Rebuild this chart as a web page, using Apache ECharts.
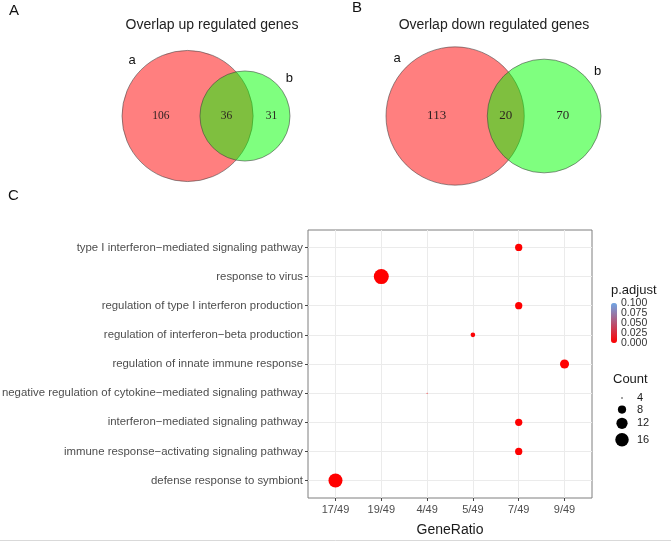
<!DOCTYPE html>
<html>
<head>
<meta charset="utf-8">
<script src="https://cdn.jsdelivr.net/npm/echarts@6/dist/echarts.min.js"></script>
<style>
html, body { margin: 0; padding: 0; background: #fff; }
#main { width: 671px; height: 543px; }
</style>
</head>
<body>
<div id="main"></div>
<script>
// Venn counts: [only a, a and b, only b]
var upCounts = [106, 36, 31];
var downCounts = [113, 20, 70];
var setNames = ['a', 'b'];

// GO enrichment dot plot
var terms = [
    'type I interferon−mediated signaling pathway',
    'response to virus',
    'regulation of type I interferon production',
    'regulation of interferon−beta production',
    'regulation of innate immune response',
    'negative regulation of cytokine−mediated signaling pathway',
    'interferon−mediated signaling pathway',
    'immune response−activating signaling pathway',
    'defense response to symbiont'
];
var geneRatio = ['7/49', '19/49', '7/49', '5/49', '9/49', '4/49', '7/49', '7/49', '17/49'];
var geneCount = [7, 19, 7, 5, 9, 4, 7, 7, 17];
var pAdjust = [0.0002, 0.00001, 0.0003, 0.002, 0.0001, 0.004, 0.0003, 0.0004, 0.00001];
var ratioTicks = ['17/49', '19/49', '4/49', '5/49', '7/49', '9/49'];
var pTicks = [0.100, 0.075, 0.050, 0.025, 0.000];
var countTicks = [4, 8, 12, 16];

var FONT = '"Liberation Sans", Arial, sans-serif';
var SERIF = '"Liberation Serif", "Times New Roman", serif';

var myChart = echarts.init(document.getElementById('main'));

// area-proportional circles: find the distance that gives the overlap area
function lensArea(r1, r2, d) {
    if (d >= r1 + r2) return 0;
    if (d <= Math.abs(r1 - r2)) return Math.PI * Math.pow(Math.min(r1, r2), 2);
    var a1 = Math.acos((d * d + r1 * r1 - r2 * r2) / (2 * d * r1));
    var a2 = Math.acos((d * d + r2 * r2 - r1 * r1) / (2 * d * r2));
    return r1 * r1 * a1 + r2 * r2 * a2 -
        0.5 * Math.sqrt((-d + r1 + r2) * (d + r1 - r2) * (d - r1 + r2) * (d + r1 + r2));
}
function vennLayout(c) {
    var r1 = Math.sqrt((c[0] + c[1]) / Math.PI);
    var r2 = Math.sqrt((c[2] + c[1]) / Math.PI);
    var lo = Math.abs(r1 - r2), hi = r1 + r2;
    for (var k = 0; k < 60; k++) {
        var mid = (lo + hi) / 2;
        if (lensArea(r1, r2, mid) > c[1]) lo = mid; else hi = mid;
    }
    return { r1: r1, r2: r2, d: (lo + hi) / 2 };
}

var fills = ['rgba(255,0,0,0.5)', 'rgba(0,255,0,0.5)'];
var grids = [], xAxes = [], yAxes = [], series = [];

function addVenn(counts, left, width, cy, numSize) {
    var v = vennLayout(counts);
    var scale = width / (v.r1 + v.d + v.r2);
    var idx = grids.length;
    grids.push({
        left: left, width: width,
        top: cy - v.r1 * scale, height: 2 * v.r1 * scale,
        outerBoundsMode: 'none'
    });
    xAxes.push({ type: 'value', gridIndex: idx, min: -v.r1, max: v.d + v.r2, show: false });
    yAxes.push({ type: 'value', gridIndex: idx, min: -v.r1, max: v.r1, show: false });
    series.push({
        type: 'custom',
        xAxisIndex: idx, yAxisIndex: idx,
        silent: true,
        data: [[0, v.r1], [v.d, v.r2]],
        renderItem: function (params, api) {
            var i = params.dataIndex;
            var c = api.coord([api.value(0), 0]);
            var rp = api.size([api.value(1), 0])[0];
            var ang = (i === 0 ? 135 : 40) * Math.PI / 180;
            var dist = rp + 13;
            return {
                type: 'group',
                children: [{
                    type: 'circle',
                    shape: { cx: c[0], cy: c[1], r: rp },
                    style: { fill: fills[i], stroke: 'rgba(60,60,60,0.55)', lineWidth: 1 }
                }, {
                    type: 'text',
                    style: {
                        text: setNames[i],
                        x: c[0] + dist * Math.cos(ang), y: c[1] - dist * Math.sin(ang),
                        align: 'center', verticalAlign: 'middle',
                        font: '13px ' + FONT, fill: '#111'
                    }
                }]
            };
        }
    });
    // region counts sit at the middle of each horizontal segment
    var xs = [
        (-v.r1 + v.d - v.r2) / 2,
        (v.d - v.r2 + v.r1) / 2,
        (v.r1 + v.d + v.r2) / 2
    ];
    series.push({
        type: 'custom',
        xAxisIndex: idx, yAxisIndex: idx,
        silent: true, z: 3,
        data: xs.map(function (x, i) { return [x, 0, counts[i]]; }),
        renderItem: function (params, api) {
            var c = api.coord([api.value(0), api.value(1)]);
            return {
                type: 'text',
                style: {
                    text: String(api.value(2)), x: c[0], y: c[1],
                    align: 'center', verticalAlign: 'middle',
                    font: numSize + 'px ' + SERIF, fill: '#2a1f1f'
                }
            };
        }
    });
}

addVenn(upCounts, 122, 168, 116, 11.5);
addVenn(downCounts, 386, 215, 116, 13);

// dot size like ggplot scale_size (area)
var cMin = Math.min.apply(null, geneCount), cMax = Math.max.apply(null, geneCount);
function dotSize(n) {
    var t = Math.max((n - cMin) / (cMax - cMin), 0);
    return 1 + Math.sqrt(t) * 14;
}

var tickIdx = ratioTicks.map(function (t, i) { return i; });
var termIdx = terms.map(function (t, i) { return i; });

grids.push({
    left: 308, top: 230, width: 284, height: 268,
    show: true, borderColor: '#7f7f7f', borderWidth: 1, backgroundColor: '#fff',
    outerBoundsMode: 'none'
});
xAxes.push({
    type: 'value', gridIndex: 2, position: 'bottom',
    min: -0.6, max: ratioTicks.length - 0.4,
    axisLine: { show: false, onZero: false },
    axisTick: { show: true, customValues: tickIdx, length: 3, lineStyle: { color: '#444' } },
    axisLabel: {
        customValues: tickIdx, margin: 6,
        formatter: function (v) { return ratioTicks[Math.round(v)]; },
        color: '#4d4d4d', fontSize: 11, fontFamily: FONT
    },
    splitLine: { show: true, lineStyle: { color: '#ebebeb' } },
    name: 'GeneRatio', nameLocation: 'middle', nameGap: 25, nameMoveOverlap: false,
    nameTextStyle: { color: '#1a1a1a', fontSize: 14, fontFamily: FONT }
});
yAxes.push({
    type: 'value', gridIndex: 2, inverse: true, position: 'left',
    min: -0.6, max: terms.length - 0.4,
    axisLine: { show: false, onZero: false },
    axisTick: { show: true, customValues: termIdx, length: 3, lineStyle: { color: '#444' } },
    axisLabel: {
        customValues: termIdx, margin: 5,
        formatter: function (v) { return terms[Math.round(v)]; },
        color: '#4d4d4d', fontSize: 11.4, fontFamily: FONT
    },
    splitLine: { show: true, lineStyle: { color: '#ebebeb' } }
});

var dots = terms.map(function (t, i) {
    return [ratioTicks.indexOf(geneRatio[i]), i, geneCount[i], pAdjust[i]];
});
series.push({
    type: 'scatter', name: 'dotplot',
    xAxisIndex: 2, yAxisIndex: 2,
    data: dots,
    symbolSize: function (v) { return dotSize(v[2]); },
    itemStyle: { opacity: 1 },
    z: 4
});

// legend pieces
var barTop = 303, barH = 40, barLeft = 611;
var graphics = [
    { type: 'text', left: 9, top: 3, style: { text: 'A', font: '15px ' + FONT, fill: '#111' } },
    { type: 'text', left: 352, top: 0, style: { text: 'B', font: '15px ' + FONT, fill: '#111' } },
    { type: 'text', left: 8, top: 188, style: { text: 'C', font: '15px ' + FONT, fill: '#111' } },
    { type: 'text', x: 212, y: 25, style: { text: 'Overlap up regulated genes', align: 'center', verticalAlign: 'middle', font: '14px ' + FONT, fill: '#222' } },
    { type: 'text', x: 494, y: 25, style: { text: 'Overlap down regulated genes', align: 'center', verticalAlign: 'middle', font: '14px ' + FONT, fill: '#222' } },
    { type: 'text', x: barLeft, y: 290, style: { text: 'p.adjust', verticalAlign: 'middle', font: '13px ' + FONT, fill: '#1a1a1a' } },
    { type: 'text', x: 613, y: 379, style: { text: 'Count', verticalAlign: 'middle', font: '13px ' + FONT, fill: '#1a1a1a' } },
    { type: 'line', shape: { x1: 0, y1: 540.5, x2: 671, y2: 540.5 }, style: { stroke: '#d9d9d9', lineWidth: 1 } }
];
pTicks.forEach(function (p) {
    graphics.push({
        type: 'text', x: barLeft + 10, y: barTop + (0.1 - p) / 0.1 * barH,
        style: { text: p.toFixed(3), verticalAlign: 'middle', font: '10.5px ' + FONT, fill: '#333' }
    });
});
var ky = 398, prevH = null;
countTicks.forEach(function (n) {
    var s = dotSize(n), h = Math.max(11, s + 4);
    if (prevH !== null) ky += (prevH + h) / 2;
    prevH = h;
    graphics.push({ type: 'circle', shape: { cx: 622, cy: ky, r: Math.max(s / 2, 0.7) }, style: { fill: '#000' } });
    graphics.push({
        type: 'text', x: 637, y: ky,
        style: { text: String(n), verticalAlign: 'middle', font: '11px ' + FONT, fill: '#1a1a1a' }
    });
});

option = {
    backgroundColor: '#fff',
    animation: false,
    grid: grids,
    xAxis: xAxes,
    yAxis: yAxes,
    visualMap: {
        type: 'continuous',
        seriesIndex: series.length - 1,
        dimension: 3,
        min: 0, max: 0.1,
        inRange: { color: ['#ff0000', '#6ea6e6'] },
        calculable: false,
        text: null,
        showLabel: false,
        itemWidth: 6, itemHeight: barH,
        left: barLeft, top: barTop,
        padding: 0
    },
    graphic: graphics,
    series: series
};

myChart.setOption(option);

window.addEventListener('resize', function () {
    myChart.resize();
});
</script>
</body>
</html>
